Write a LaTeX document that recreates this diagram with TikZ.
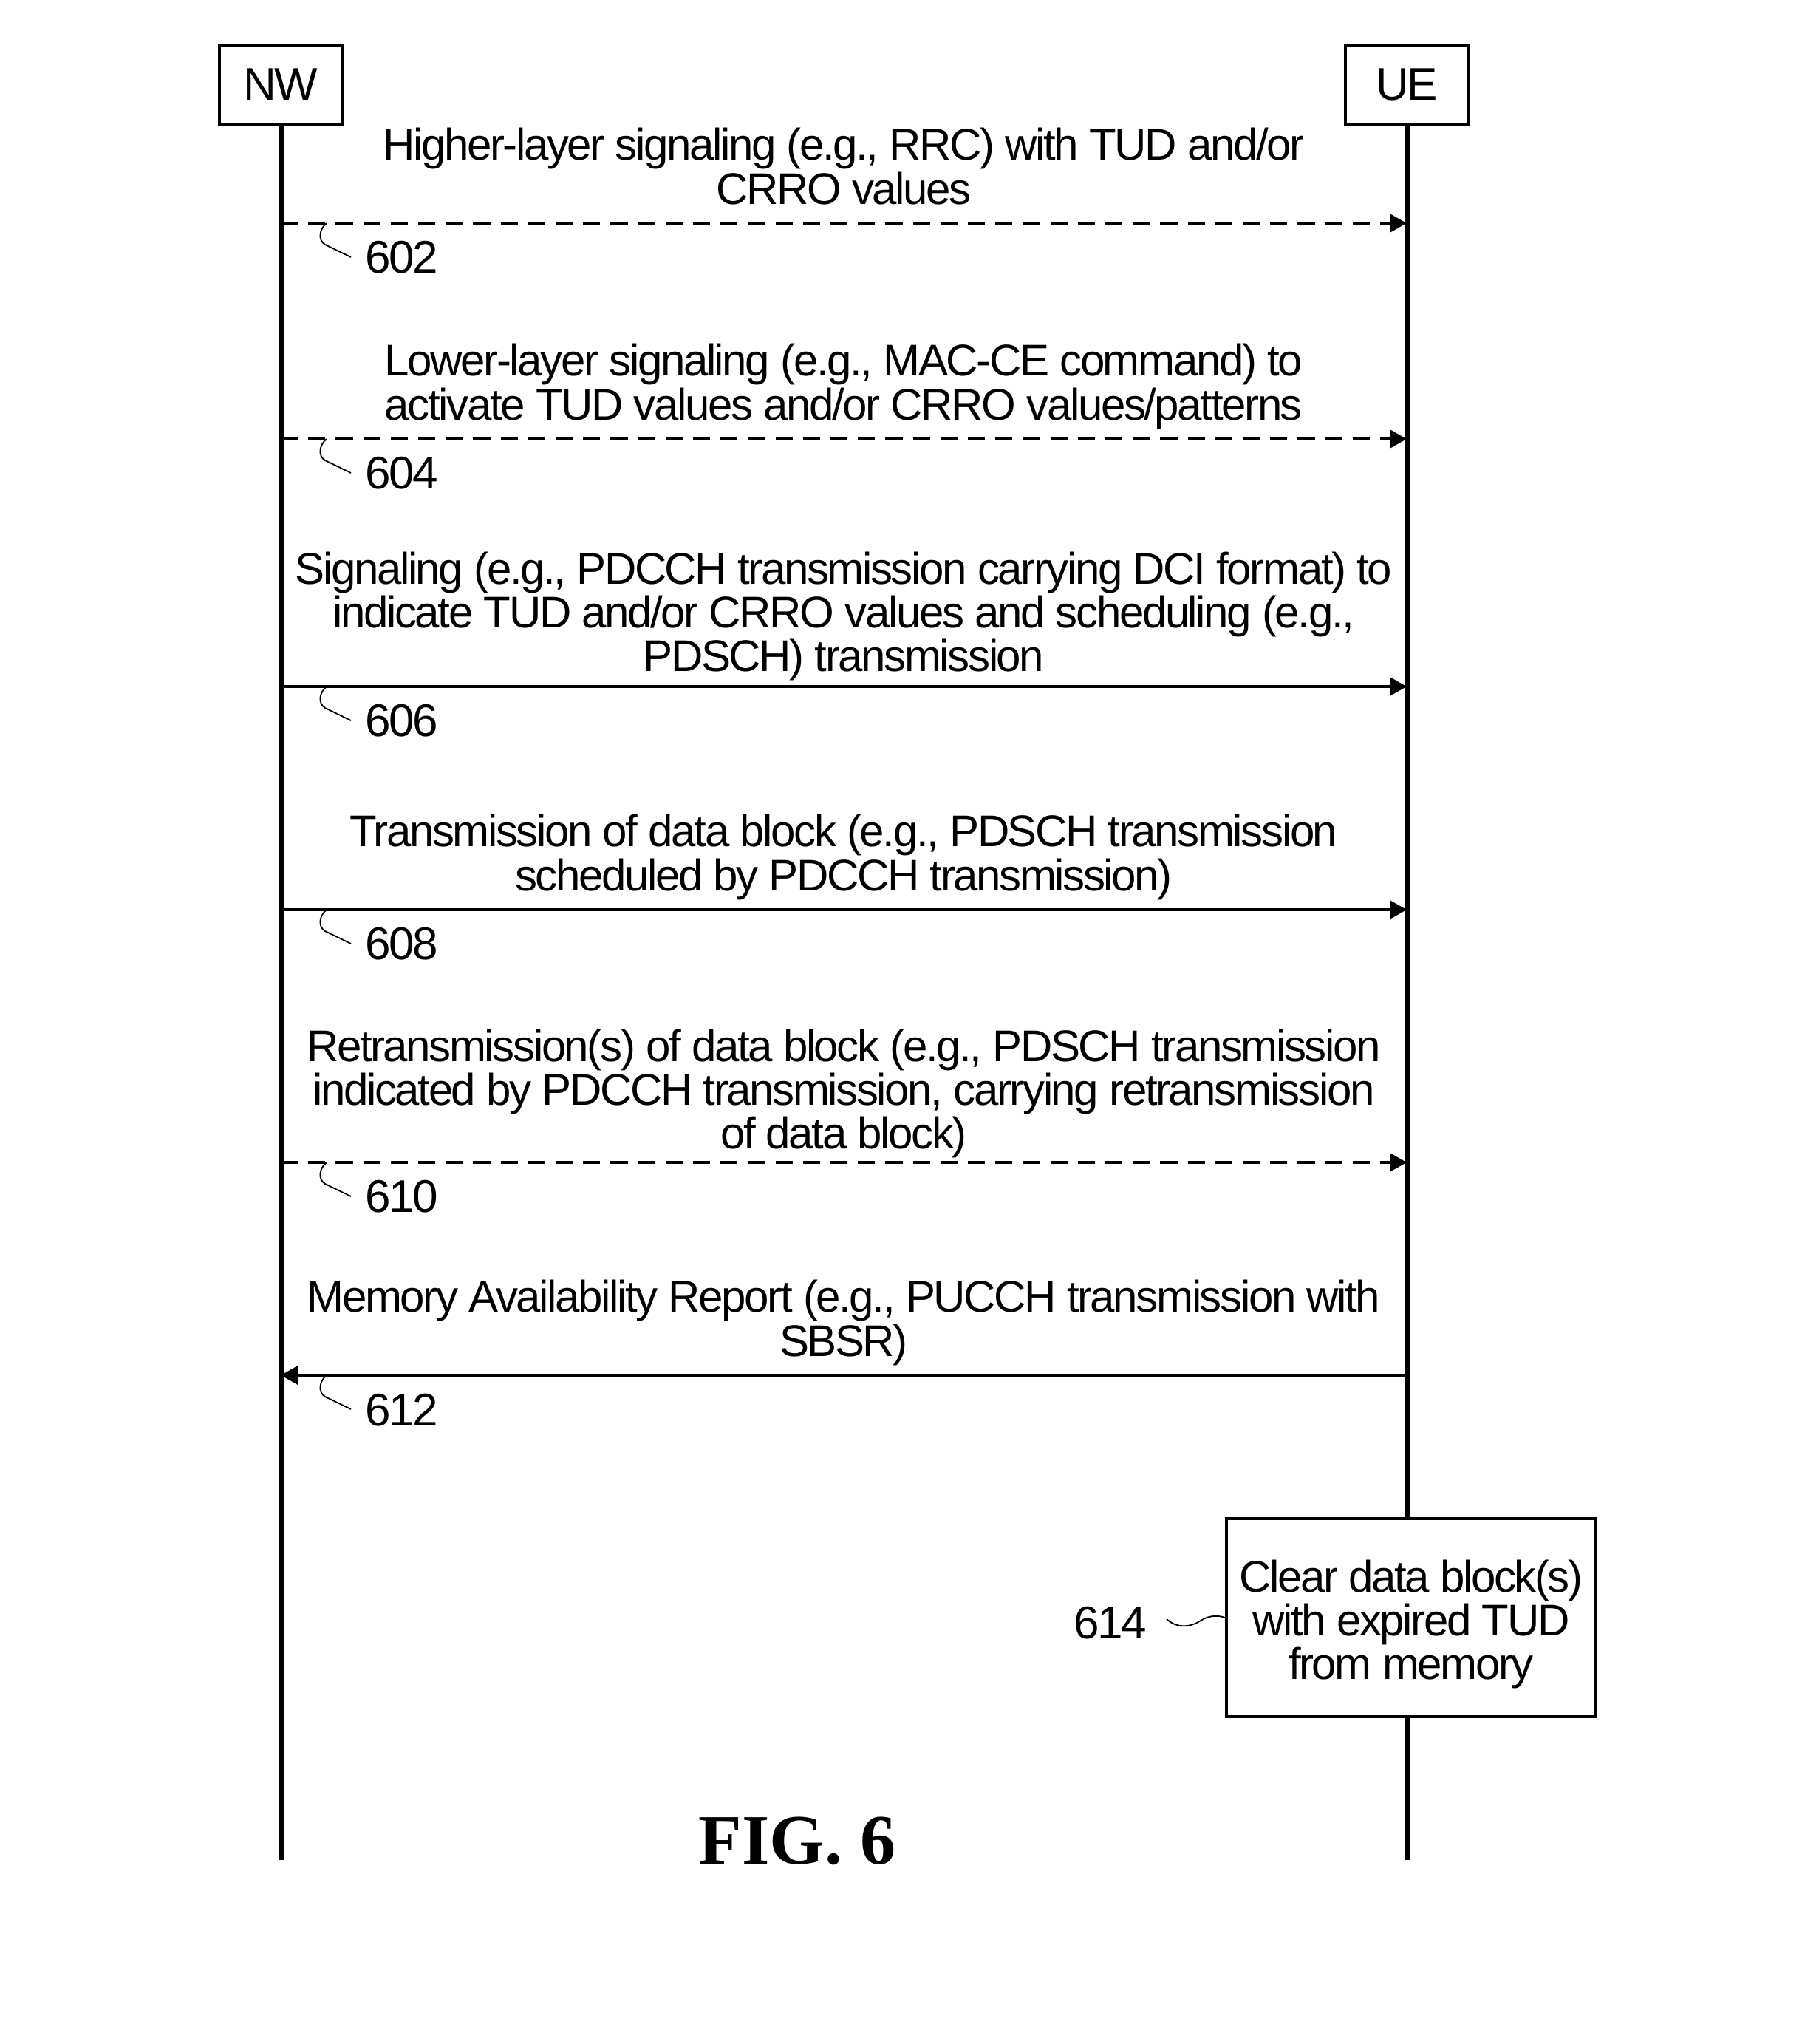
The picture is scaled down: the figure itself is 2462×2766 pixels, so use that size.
\documentclass[tikz,border=0pt]{standalone}
\usepackage{fontspec}
\setmainfont{Liberation Sans}[LetterSpace=-4]
\newfontfamily\figfont{Liberation Serif}
\usetikzlibrary{arrows.meta}
\begin{document}
\begin{tikzpicture}[x=0.25pt,y=-0.25pt,
  msg/.style={font=\fontsize{15}{14.8}\selectfont, align=center, inner sep=0},
  life/.style={line width=1.75pt},
  actor/.style={draw, line width=1.1pt, minimum width=41.5pt, minimum height=26.75pt, inner sep=0, font=\fontsize{15.5}{18}\selectfont},
  arr/.style={line width=0.85pt, -{Triangle[length=5.75pt,width=6.25pt]}},
  dsh/.style={dash pattern=on 5.8pt off 3.5pt},
  lead/.style={line width=0.45pt},
  num/.style={font=\fontsize{15.5}{18}\selectfont, inner sep=0},
  ldr/.pic={\draw[lead] (62,0) .. controls (52,8) and (50,23) .. (60,29) -- (95,46);}]
\useasboundingbox (0,0) rectangle (2462,2766);
% actors
\node[actor] (nw) at (380,114.5) {NW};
\node[actor] (ue) at (1904,114.5) {UE};
\coordinate (nwend) at (380,2517);
\coordinate (ueend) at (1904,2517);
\draw[life] (nw.south) -- (nwend);
\draw[life] (ue.south) -- (ueend);
% message anchors
\foreach \n/\y in {602/302,604/594,606/929,608/1231,610/1573,612/1861}{
  \coordinate (a\n) at (380,\y);
  \coordinate (b\n) at (1904,\y);
}
% messages
\node[msg] (t602) at (1142,225) {Higher-layer signaling (e.g., RRC) with TUD and/or\\CRRO values};
\draw[arr,dsh] (a602) -- (b602);
\pic at (a602) {ldr};
\node[num] (n602) at (544,348) {602};

\node[msg] (t604) at (1142,523) {Lower-layer signaling (e.g., MAC-CE command) to\\activate TUD values and/or CRRO values/patterns};
\draw[arr,dsh] (a604) -- (b604);
\pic at (a604) {ldr};
\node[num] (n604) at (544,640) {604};

\node[msg] (t606) at (1142,834) {Signaling (e.g., PDCCH transmission carrying DCI format) to\\indicate TUD and/or CRRO values and scheduling (e.g.,\\PDSCH) transmission};
\draw[arr] (a606) -- (b606);
\pic at (a606) {ldr};
\node[num] (n606) at (544,975) {606};

\node[msg] (t608) at (1142,1160) {Transmission of data block (e.g., PDSCH transmission\\scheduled by PDCCH transmission)};
\draw[arr] (a608) -- (b608);
\pic at (a608) {ldr};
\node[num] (n608) at (544,1277) {608};

\node[msg] (t610) at (1142,1480) {Retransmission(s) of data block (e.g., PDSCH transmission\\indicated by PDCCH transmission, carrying retransmission\\of data block)};
\draw[arr,dsh] (a610) -- (b610);
\pic at (a610) {ldr};
\node[num] (n610) at (544,1619) {610};

\node[msg] (t612) at (1142,1790) {Memory Availability Report (e.g., PUCCH transmission with\\SBSR)};
\draw[arr] (b612) -- (a612);
\pic at (a612) {ldr};
\node[num] (n612) at (544,1908) {612};

% process box
\node[draw, line width=1.1pt, fill=white, minimum width=125pt, minimum height=67pt, inner sep=0] (clr) at (1910,2189) {};
\node[msg] (clrtxt) at (1910,2198) {Clear data block(s)\\with expired TUD\\from memory};
\node[num] (n614) at (1503,2196) {614};
\draw[lead] (1579,2191) .. controls (1592,2203) and (1610,2203) .. (1625,2193) .. controls (1638,2185) and (1650,2186) .. (clr.west);

\node[font=\figfont\bfseries\fontsize{24}{28}\selectfont] (fig) at (1079,2491) {FIG. 6};
\end{tikzpicture}
\end{document}
